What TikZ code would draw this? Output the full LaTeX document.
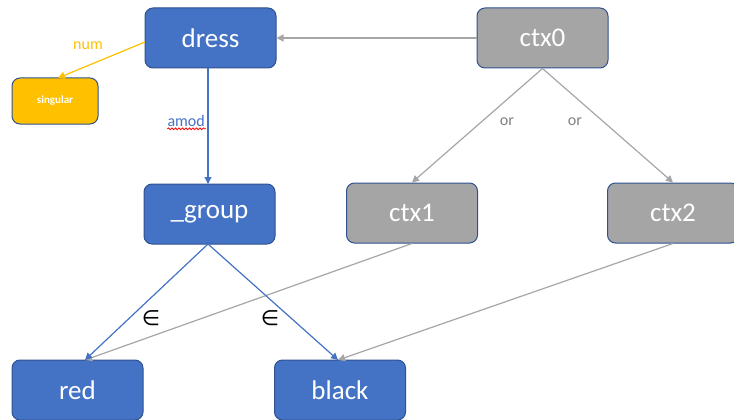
\documentclass[tikz,border=0pt]{standalone}
\usepackage{fontspec}
\setmainfont{Carlito}
\newfontfamily\symfont{DejaVu Sans}
\usetikzlibrary{arrows.meta,decorations.pathmorphing}
\definecolor{boxblue}{HTML}{4472C4}
\definecolor{edgeblue}{HTML}{2F528F}
\definecolor{boxgray}{HTML}{A5A5A5}
\definecolor{boxgold}{HTML}{FFC000}
\definecolor{linegray}{HTML}{A6A6A6}
\tikzset{
  box/.style={draw=edgeblue, line width=1pt, rounded corners=8pt,
    minimum width=131pt, minimum height=60pt, inner sep=0pt,
    text=white, font=\fontsize{27}{30}\selectfont},
  bluebox/.style={box, fill=boxblue},
  graybox/.style={box, fill=boxgray},
  goldbox/.style={box, fill=boxgold, minimum width=86pt, minimum height=46pt,
    font=\bfseries\fontsize{11}{13}\selectfont},
  arr/.style={-{Triangle[length=7pt,width=7pt]}, line width=1.2pt},
  bluearr/.style={arr, draw=boxblue},
  grayarr/.style={arr, draw=linegray},
  goldarr/.style={arr, draw=boxgold},
  lbl/.style={font=\fontsize{16}{18}\selectfont, inner sep=1pt},
  inlbl/.style={font=\symfont\fontsize{21}{24}\selectfont, inner sep=1pt},
}
\begin{document}
\begin{tikzpicture}[x=1pt, y=-1pt]
\useasboundingbox (0,0) rectangle (734,420);

% nodes
\node[bluebox] (dress) at (210.5,38) {dress};
\node[graybox] (ctx0) at (542.5,38) {ctx0};
\node[goldbox] (sing) at (55,101) {singular};
\node[bluebox] (group) at (209.5,214) {\_group};
\node[graybox] (ctx1) at (412,213) {ctx1};
\node[graybox] (ctx2) at (673,213) {ctx2};
\node[bluebox] (red) at (77.5,390) {red};
\node[bluebox] (black) at (340,390) {black};

% end points on the box borders
\coordinate (numsrc) at (145,42);
\coordinate (numdst) at (58,78);
\coordinate (amodsrc) at (208,68);
\coordinate (amoddst) at (208,184);
\coordinate (gsrc) at (208,244);
\coordinate (redtop) at (85,360);
\coordinate (blacktop) at (338,360);

% connectors
\draw[grayarr] (ctx0.west) -- (dress.east);
\draw[goldarr] (numsrc) -- (numdst);
\node[lbl, text=boxgold] (numlbl) at (88,46) {num};

\draw[bluearr] (amodsrc) -- (amoddst);
\node[lbl, text=boxblue, anchor=east] (amodlbl) at (206,121) {amod};
\draw[red, line width=0.8pt, decorate,
  decoration={snake, amplitude=0.9pt, segment length=3.5pt}]
  ([xshift=1pt,yshift=-1pt]amodlbl.south west) -- ([yshift=-1pt]amodlbl.south east);

\draw[grayarr] (ctx0.south) -- (ctx1.north);
\draw[grayarr] (ctx0.south) -- (ctx2.north);
\node[lbl, text=gray] (or1) at (507,122) {or};
\node[lbl, text=gray] (or2) at (575,122) {or};

\draw[grayarr] (ctx1.south) -- (redtop);
\draw[grayarr] (ctx2.south) -- (blacktop);
\draw[bluearr] (gsrc) -- (redtop);
\draw[bluearr] (gsrc) -- (blacktop);
\node[inlbl] (in1) at (151,318) {∈};
\node[inlbl] (in2) at (270,318) {∈};
\end{tikzpicture}
\end{document}
